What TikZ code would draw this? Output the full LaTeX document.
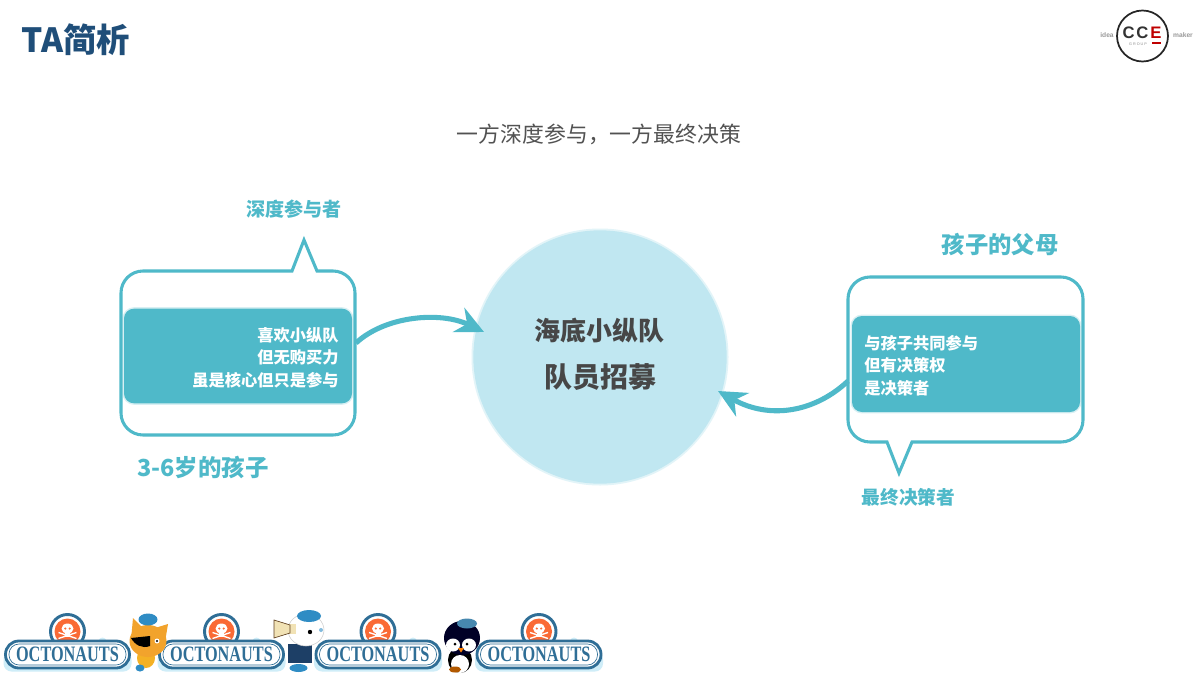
\documentclass[tikz,border=0pt]{standalone}
\usepackage{fontspec}
\setmainfont{Noto Sans CJK SC}
\newfontfamily\logofont{Liberation Serif}[Scale=1]
\newfontfamily\latinfont{Liberation Sans}
\usetikzlibrary{arrows.meta}
\definecolor{teal}{HTML}{4FB9C9}
\definecolor{hubfill}{HTML}{C0E7F1}
\definecolor{titleblue}{HTML}{1F4E79}
\definecolor{logoblue}{HTML}{2F6E96}
\definecolor{halo}{HTML}{CFEDF8}
\definecolor{orangeA}{HTML}{FA6A35}
\definecolor{navyA}{HTML}{1D3F66}
\definecolor{hatblue}{HTML}{2F8CC4}
\definecolor{catorange}{HTML}{F2A32C}
\tikzset{
  x=0.75pt,y=-0.75pt,
  bubble/.style={draw=teal,line width=2.3pt,fill=white,line join=miter},
  innerbox/.style={fill=teal,draw=teal,draw opacity=.22,line width=2.2pt,rounded corners=7.5pt,inner sep=0pt,minimum width=171pt,anchor=center},
  boxtext/.style={white,font=\fontsize{12.2pt}{17pt}\selectfont\bfseries,align=#1,inner sep=0pt},
  labeltext/.style={teal,inner sep=0pt,font=\bfseries},
  flow/.style={draw=teal,line width=3.8pt,-{Stealth[length=21pt,width=20pt,inset=7pt]}},
  pics/octologo/.style={code={
    \fill[halo,rounded corners=6pt] (-64,-3) rectangle (64,17);
    \fill[halo] (22,-8) circle (2.5);
    \fill[halo] (35,-13) circle (4);
    \fill[halo] (-32,-7) circle (2);
    \fill[halo] (44,-9) circle (3);
    \fill[halo] (-40,-4) circle (2.5);
    \draw[logoblue,line width=2.2pt,fill=white] (0,-23) circle (17);
    \fill[orangeA] (0,-23) circle (13);
    \fill[white] (0,-26) ellipse (6 and 5);
    \fill[white] (-2.5,-22) rectangle (2.5,-18);
    \draw[white,line width=1pt] (-9,-16) -- (9,-22) (9,-16) -- (-9,-22);
    \fill[orangeA] (-2.2,-26) circle (1.2) (2.2,-26) circle (1.2);
    \draw[logoblue,line width=2.1pt,fill=white,rounded corners=10pt] (-62,-13.5) rectangle (62,13.5);
    \draw[logoblue,line width=.5pt,rounded corners=7.5pt] (-58.5,-10.5) rectangle (58.5,10.5);
    \node[inner sep=0pt,text=logoblue] (txt) at (0,0.3)
      {\scalebox{.74}[1]{\logofont\bfseries\fontsize{16.5pt}{16.5pt}\selectfont OCTONAUTS}};
  }},
}
\begin{document}
\begin{tikzpicture}
\useasboundingbox (0,0) rectangle (1200,675);
\fill[white] (0,0) rectangle (1200,675);

% title
\node[anchor=west,inner sep=0pt,text=titleblue,font=\fontsize{25pt}{28pt}\selectfont\bfseries] (title) at (21,40) {TA简析};
\node[inner sep=0pt,text=black!68,font=\fontsize{16.4pt}{20pt}\selectfont] (subtitle) at (599,134) {一方深度参与，一方最终决策};

% CCE logo
\draw[black!85,line width=1.3pt] (1142.5,36) circle (25.5);
\node[inner sep=0pt,text=black!80,font=\latinfont\bfseries\fontsize{12.5pt}{13pt}\selectfont] (cc) at (1135.5,33) {C\hspace{1.2pt}C};
\node[inner sep=0pt,text=red!75!black,font=\latinfont\bfseries\fontsize{12.5pt}{13pt}\selectfont] (ee) at (1156,33) {E};
\fill[red!75!black] (1152,41.5) rectangle (1161,44);
\node[inner sep=0pt,text=black!45,font=\latinfont\fontsize{2.8pt}{3pt}\selectfont] (group) at (1138,44) {G R O U P};
\node[inner sep=0pt,text=black!40,font=\latinfont\bfseries\fontsize{5pt}{6pt}\selectfont] (idea) at (1107,35) {idea};
\node[inner sep=0pt,text=black!40,font=\latinfont\bfseries\fontsize{5pt}{6pt}\selectfont] (maker) at (1183,35) {maker};

% hub
\fill[hubfill,opacity=.45] (600,357) circle (128.5);
\node[circle,fill=hubfill,minimum size=190pt,inner sep=0pt] (hub) at (600,357) {};
\node[inner sep=0pt,text=black!72,font=\fontsize{19.5pt}{25pt}\selectfont\bfseries] (hub1) at (599.5,331) {海底小纵队};
\node[inner sep=0pt,text=black!72,font=\fontsize{21pt}{25pt}\selectfont\bfseries] (hub2) at (600.5,377) {队员招募};

% left bubble
\draw[bubble] (143,271) -- (292,271) -- (304,240) -- (317,271) -- (333,271)
  arc[start angle=-90,end angle=0,radius=22] -- (355,413)
  arc[start angle=0,end angle=90,radius=22] -- (143,435)
  arc[start angle=90,end angle=180,radius=22] -- (121,293)
  arc[start angle=180,end angle=270,radius=22] -- cycle;
\node[innerbox,minimum height=71pt] (kid) at (238,356) {};
\node[boxtext=right,anchor=east] (kidtext) at (339,357.5) {喜欢小纵队\\但无购买力\\虽是核心但只是参与};
\node[labeltext,font=\fontsize{14.3pt}{17pt}\selectfont\bfseries] (kidtag) at (294,209) {深度参与者};
\node[labeltext,font=\fontsize{17.6pt}{20pt}\selectfont\bfseries] (kidname) at (203,467) {3-6岁的孩子};

% right bubble
\draw[bubble] (870,277) -- (1061,277)
  arc[start angle=-90,end angle=0,radius=22] -- (1083,420)
  arc[start angle=0,end angle=90,radius=22] -- (912,442) -- (899,473) -- (887,442) -- (870,442)
  arc[start angle=90,end angle=180,radius=22] -- (848,299)
  arc[start angle=180,end angle=270,radius=22] -- cycle;
\node[innerbox,minimum height=72pt] (parent) at (966,364) {};
\node[boxtext=left,anchor=west] (parenttext) at (864,365.5) {与孩子共同参与\\但有决策权\\是决策者};
\node[labeltext,font=\fontsize{17.5pt}{20pt}\selectfont\bfseries] (parentname) at (1000,245) {孩子的父母};
\node[labeltext,font=\fontsize{14pt}{17pt}\selectfont\bfseries] (parenttag) at (908.5,497) {最终决策者};

% connectors
\coordinate (kidout) at (356,343);
\coordinate (hubinL) at (484,332);
\coordinate (parentout) at (848,381);
\coordinate (hubinR) at (718,391);
\draw[flow] (kidout) .. controls (385,316) and (440,311) .. (hubinL);
\draw[flow] (parentout) .. controls (815,412) and (770,420) .. (hubinR);

% brand strip
\pic (l1) at (67.5,654.5) {octologo};
\pic (l2) at (221.5,654.5) {octologo};
\pic (l3) at (378,654.5) {octologo};
\pic (l4) at (539,654.5) {octologo};

% cat
\fill[catorange] (133,618) -- (143,628) -- (131,640) -- cycle;
\fill[catorange] (168,624) -- (155,628) -- (165,642) -- cycle;
\fill[catorange!85!yellow] (146,658) ellipse (9 and 10);
\fill[catorange] (148,641) ellipse (18.5 and 16);
\fill[hatblue] (148,619.5) ellipse (9.5 and 6);
\fill[black] (131,638) -- (150,636) -- (150,646) .. controls (142,649) and (135,645) .. (131,638) -- cycle;
\fill[white] (157,641) circle (2.5);
\fill[black] (157,641) circle (1.2);
\fill[hatblue] (140,668) ellipse (4.5 and 3.5);
% bear
\fill[navyA] (288,644) rectangle (312,663);
\fill[hatblue] (298.5,668) ellipse (9 and 4);
\fill[white] (306,630) ellipse (18 and 16);
\draw[black!20,line width=.4pt] (306,630) ellipse (18 and 16);
\fill[hatblue] (309,616) ellipse (12 and 6);
\fill[black] (310,632) circle (2.2);
\fill[hatblue!60] (321,630) circle (2);
\fill[yellow!35!brown!35] (288,624) rectangle (296,634);
\draw[brown!50!black,line width=.5pt,fill=yellow!35!brown!35] (274,620) -- (290,625) -- (290,633) -- (274,638) -- cycle;
% penguin
\fill[black] (460,660) ellipse (12 and 13);
\fill[white] (460,664) ellipse (9 and 9);
\fill[black!85!blue] (462,638) ellipse (18 and 17);
\fill[white] (453,645) ellipse (7 and 6.5) (469,645) ellipse (7 and 6.5);
\fill[black] (455,644) circle (1.5) (467,644) circle (1.5);
\fill[orange] (458,648) -- (464,648) -- (461,652.5) -- cycle;
\fill[hatblue!70!gray] (467,623.5) ellipse (10 and 5);
\fill[orange!70!black] (455,669.5) ellipse (6 and 3);
\end{tikzpicture}
\end{document}
